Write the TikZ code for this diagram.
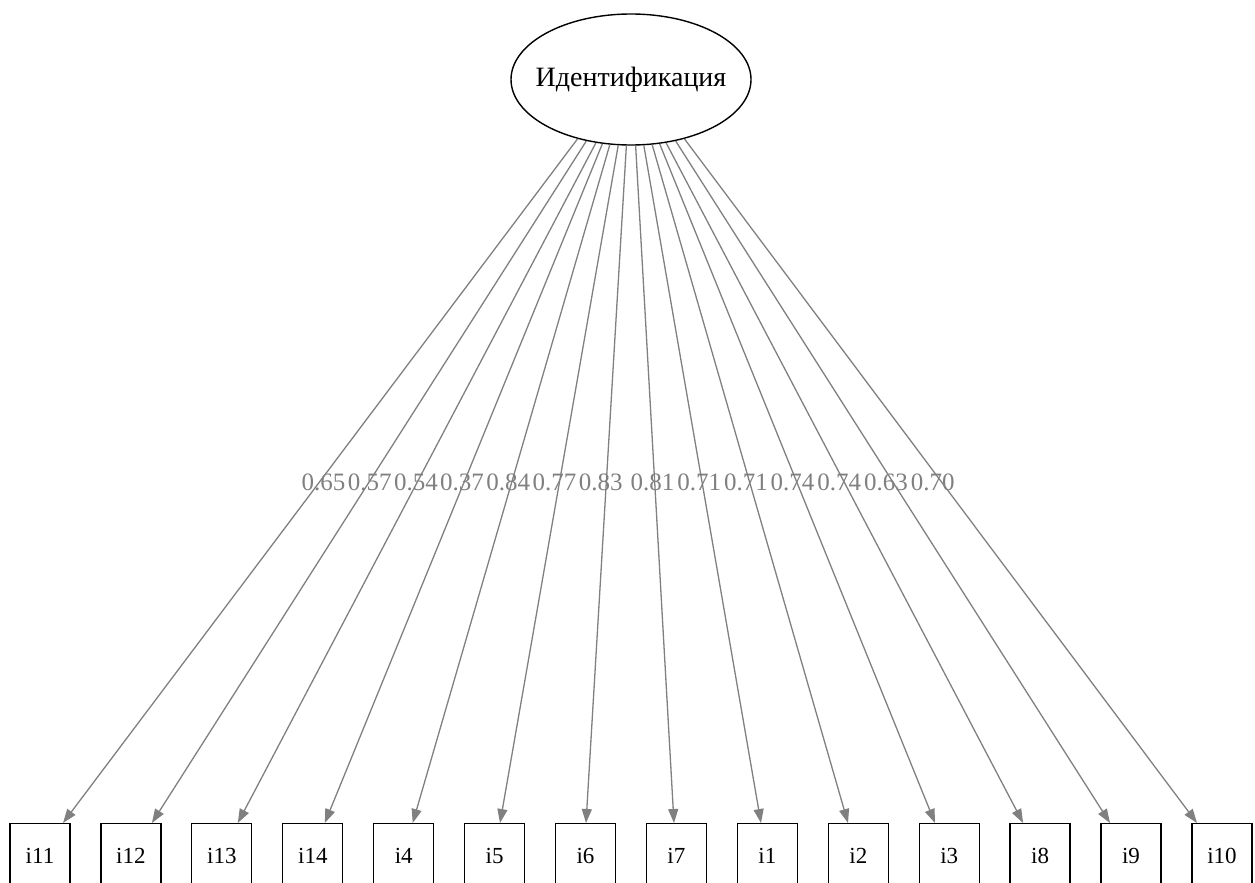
\documentclass[tikz,border=0pt]{standalone}
\usepackage{fontspec}
\setmainfont{Liberation Serif}
\usetikzlibrary{arrows.meta,shapes.geometric}
\begin{document}
\begin{tikzpicture}[x=1pt,y=-1pt,
  latent/.style={ellipse,draw,line width=1.4pt,minimum width=240pt,minimum height=131pt,
    inner xsep=-20pt,inner ysep=0pt,font=\fontsize{28}{31}\selectfont},
  item/.style={draw,line width=1.3pt,minimum width=60pt,minimum height=64pt,inner sep=0pt,
    anchor=north,font=\fontsize{23}{26}\selectfont},
  load/.style={draw=gray,line width=1.3pt,-{Triangle[length=14pt,width=10pt,fill=gray]}},
  coef/.style={text=gray,font=\fontsize{25}{28}\selectfont,anchor=base,inner sep=0pt}]
\useasboundingbox (0,0) rectangle (1255,883);

% latent factor
\node[latent] (lat) at (631,79.5) {Идентификация};

% indicators, loadings and their coefficients
\foreach \n/\x/\a/\d/\v/\lx in {
  i11/40.0/228/23/0.65/323.5,
  i12/130.9/234/21/0.57/369.7,
  i13/221.8/241/16/0.54/415.9,
  i14/312.8/246/12/0.37/462.1,
  i4/403.7/252/9/0.84/508.3,
  i5/494.6/259/5.4/0.77/554.5,
  i6/585.5/266/0.5/0.83/600.7,
  i7/676.4/274/-2.4/0.81/652.5,
  i1/767.4/281/-6.4/0.71/699.2,
  i2/858.3/288/-10.3/0.71/745.9,
  i3/949.2/294/-14.2/0.74/792.6,
  i8/1040.1/299/-17/0.74/839.3,
  i9/1131.0/306/-21/0.63/886,
  i10/1222.0/312/-25/0.70/932.7}
{
  \node[item] (\n) at (\x,823) {\n};
  \draw[load] (lat.\a) -- ([xshift=\d pt]\n.north);
  \node[coef] (c\n) at (\lx,490) {\v};
}
\end{tikzpicture}
\end{document}
